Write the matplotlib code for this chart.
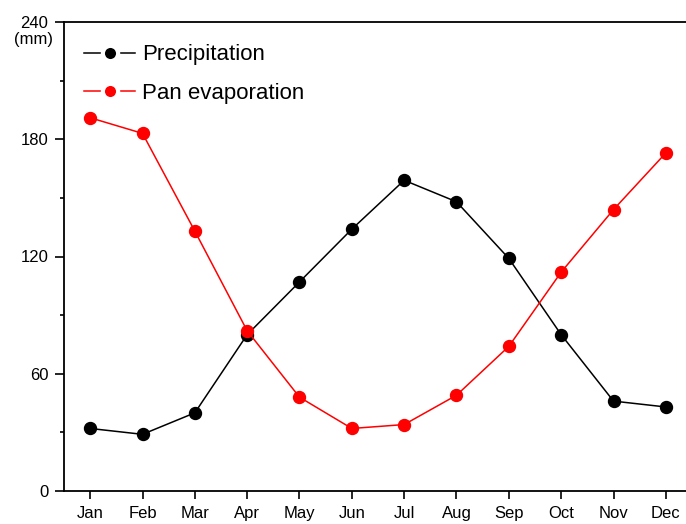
import matplotlib
matplotlib.use("Agg")
import matplotlib.pyplot as plt
from matplotlib.ticker import MultipleLocator
from matplotlib.lines import Line2D

plt.rcParams['font.family'] = ['Liberation Sans', 'DejaVu Sans']

months = ["Jan", "Feb", "Mar", "Apr", "May", "Jun", "Jul", "Aug", "Sep", "Oct", "Nov", "Dec"]
precipitation = [32, 29, 40, 80, 107, 134, 159, 148, 119, 80, 46, 43]
pan_evaporation = [191, 183, 133, 82, 48, 32, 34, 49, 74, 112, 144, 173]
y_ticks = [0, 60, 120, 180, 240]

RED = '#ff0000'

fig = plt.figure(figsize=(6.86, 5.24), dpi=100)
ax = fig.add_axes([64/686, 33/524, 628/686, 469/524])

x = list(range(1, len(months) + 1))
ax.plot(x, precipitation, color='black', lw=1.1, marker='o', ms=8.6, zorder=3)
ax.plot(x, pan_evaporation, color=RED, lw=1.1, marker='o', ms=8.6,
        mfc=RED, mec=RED, zorder=3)

ax.set_xlim(0.5, 12.5)
ax.set_ylim(0, 240)
ax.set_xticks(x)
ax.set_xticklabels(months)
ax.set_yticks(y_ticks)
ax.yaxis.set_minor_locator(MultipleLocator(30))
ax.tick_params(axis='x', which='major', direction='out', length=5.8, width=1.2,
               labelsize=12, pad=5)
ax.tick_params(axis='y', which='major', direction='out', length=6.2, width=1.2,
               labelsize=12, pad=5)
ax.tick_params(axis='y', which='minor', direction='out', length=3, width=1.2)
for s in ax.spines.values():
    s.set_linewidth(1.3)

ax.text(-0.049, 0.963, '(mm)', transform=ax.transAxes, fontsize=12,
        ha='center', va='center')

handles = [
    Line2D([], [], color='black', lw=1.1, marker='o', ms=11, mfc='black',
           mec='white', mew=3),
    Line2D([], [], color=RED, lw=1.1, marker='o', ms=11, mfc=RED,
           mec='white', mew=3),
]
leg = ax.legend(handles, ['Precipitation', 'Pan evaporation'],
                loc='upper left', bbox_to_anchor=(0.0, 0.995), frameon=False,
                fontsize=16, handlelength=2.3, handletextpad=0.3,
                labelspacing=0.8)

fig.savefig('out.png', dpi=100)
